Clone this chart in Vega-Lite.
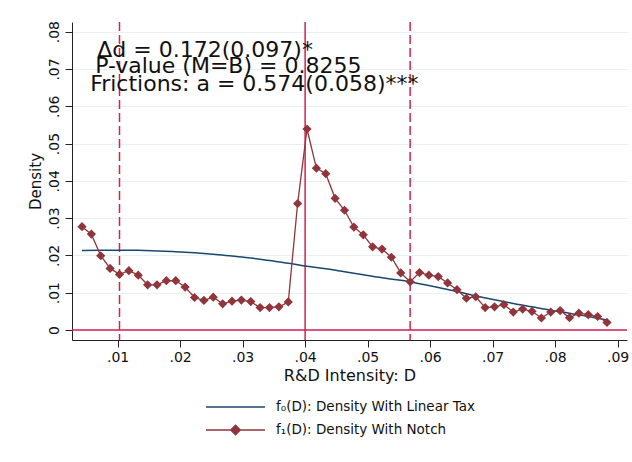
{
  "$schema": "https://vega.github.io/schema/vega-lite/v6.json",
  "autosize": "none",
  "width": 555,
  "height": 318,
  "padding": {"left": 72, "top": 22, "right": 5, "bottom": 122},
  "background": "white",
  "config": {
    "view": {"stroke": null},
    "font": "DejaVu Sans",
    "axis": {
      "domainColor": "#222222",
      "tickColor": "#222222",
      "labelColor": "#111111",
      "titleColor": "#111111",
      "labelFont": "DejaVu Sans",
      "titleFont": "DejaVu Sans",
      "titleFontWeight": "normal",
      "labelFontSize": 14,
      "titleFontSize": 15,
      "tickSize": 7,
      "domainWidth": 1,
      "tickWidth": 1
    }
  },
  "datasets": {
    "f1": [
      {"d": 0.0043, "density": 0.0277},
      {"d": 0.0058, "density": 0.0257},
      {"d": 0.0073, "density": 0.0199},
      {"d": 0.0088, "density": 0.0165},
      {"d": 0.0103, "density": 0.0149},
      {"d": 0.0118, "density": 0.0159},
      {"d": 0.0133, "density": 0.0147},
      {"d": 0.0148, "density": 0.0121},
      {"d": 0.0163, "density": 0.0121},
      {"d": 0.0178, "density": 0.0132},
      {"d": 0.0193, "density": 0.0132},
      {"d": 0.0208, "density": 0.0115},
      {"d": 0.0223, "density": 0.0087},
      {"d": 0.0238, "density": 0.0079},
      {"d": 0.0253, "density": 0.0088},
      {"d": 0.0268, "density": 0.0070},
      {"d": 0.0283, "density": 0.0077},
      {"d": 0.0298, "density": 0.0080},
      {"d": 0.0313, "density": 0.0076},
      {"d": 0.0328, "density": 0.0060},
      {"d": 0.0343, "density": 0.0060},
      {"d": 0.0358, "density": 0.0062},
      {"d": 0.0373, "density": 0.0075},
      {"d": 0.0388, "density": 0.0339},
      {"d": 0.0403, "density": 0.0539},
      {"d": 0.0418, "density": 0.0434},
      {"d": 0.0433, "density": 0.0419},
      {"d": 0.0448, "density": 0.0353},
      {"d": 0.0463, "density": 0.0321},
      {"d": 0.0478, "density": 0.0276},
      {"d": 0.0493, "density": 0.0255},
      {"d": 0.0508, "density": 0.0223},
      {"d": 0.0523, "density": 0.0217},
      {"d": 0.0538, "density": 0.0195},
      {"d": 0.0553, "density": 0.0153},
      {"d": 0.0568, "density": 0.0129},
      {"d": 0.0583, "density": 0.0154},
      {"d": 0.0598, "density": 0.0147},
      {"d": 0.0613, "density": 0.0143},
      {"d": 0.0628, "density": 0.0126},
      {"d": 0.0643, "density": 0.0108},
      {"d": 0.0658, "density": 0.0085},
      {"d": 0.0673, "density": 0.0089},
      {"d": 0.0688, "density": 0.0060},
      {"d": 0.0703, "density": 0.0062},
      {"d": 0.0718, "density": 0.0068},
      {"d": 0.0733, "density": 0.0048},
      {"d": 0.0748, "density": 0.0056},
      {"d": 0.0763, "density": 0.0050},
      {"d": 0.0778, "density": 0.0032},
      {"d": 0.0793, "density": 0.0048},
      {"d": 0.0808, "density": 0.0052},
      {"d": 0.0823, "density": 0.0033},
      {"d": 0.0838, "density": 0.0045},
      {"d": 0.0853, "density": 0.0041},
      {"d": 0.0868, "density": 0.0036},
      {"d": 0.0883, "density": 0.0020}
    ],
    "f0": [
      {"d": 0.0043, "density": 0.0213},
      {"d": 0.0073, "density": 0.02137},
      {"d": 0.0103, "density": 0.0214},
      {"d": 0.0133, "density": 0.02136},
      {"d": 0.0163, "density": 0.0212},
      {"d": 0.0193, "density": 0.0210},
      {"d": 0.0223, "density": 0.0207},
      {"d": 0.0253, "density": 0.0203},
      {"d": 0.0283, "density": 0.0198},
      {"d": 0.0313, "density": 0.0193},
      {"d": 0.0343, "density": 0.0186},
      {"d": 0.0373, "density": 0.0179},
      {"d": 0.0403, "density": 0.0171},
      {"d": 0.0433, "density": 0.0164},
      {"d": 0.0463, "density": 0.0156},
      {"d": 0.0493, "density": 0.0148},
      {"d": 0.0523, "density": 0.0140},
      {"d": 0.0553, "density": 0.0133},
      {"d": 0.0583, "density": 0.0124},
      {"d": 0.0613, "density": 0.0114},
      {"d": 0.0643, "density": 0.0103},
      {"d": 0.0673, "density": 0.0091},
      {"d": 0.0703, "density": 0.0081},
      {"d": 0.0733, "density": 0.0071},
      {"d": 0.0763, "density": 0.0062},
      {"d": 0.0793, "density": 0.0053},
      {"d": 0.0823, "density": 0.0045},
      {"d": 0.0853, "density": 0.0036},
      {"d": 0.0883, "density": 0.0027}
    ],
    "refs": [
      {"d": 0.0103, "kind": "bound"},
      {"d": 0.04, "kind": "notch"},
      {"d": 0.0568, "kind": "bound"}
    ],
    "notes": [
      {"note": "Δd = 0.172(0.097)*", "d": 0.00675, "density": 0.0732},
      {"note": "P-value (M=B) = 0.8255", "d": 0.0064, "density": 0.0688},
      {"note": "Frictions: a = 0.574(0.058)***", "d": 0.0056, "density": 0.0642}
    ]
  },
  "encoding": {
    "x": {
      "field": "d",
      "type": "quantitative",
      "scale": {"domain": [0.0027, 0.0915], "nice": false, "zero": false},
      "axis": {
        "title": "R&D Intensity: D",
        "titleFontSize": 16,
        "values": [0.01, 0.02, 0.03, 0.04, 0.05, 0.06, 0.07, 0.08, 0.09],
        "labelExpr": "replace(format(datum.value, '.2f'), '0.', '.')",
        "grid": false,
        "labelPadding": 3,
        "titlePadding": 3
      }
    },
    "y": {
      "field": "density",
      "type": "quantitative",
      "scale": {"domain": [-0.0027, 0.0826], "nice": false, "zero": false},
      "axis": {
        "title": "Density",
        "values": [0, 0.01, 0.02, 0.03, 0.04, 0.05, 0.06, 0.07, 0.08],
        "labelExpr": "datum.value == 0 ? '0' : replace(format(datum.value, '.2f'), '0.', '.')",
        "labelAngle": -90,
        "labelAlign": "center",
        "labelBaseline": "bottom",
        "labelPadding": 4,
        "titlePadding": 4,
        "grid": true,
        "gridColor": "#e8f0f2",
        "gridWidth": 1.2
      }
    }
  },
  "layer": [
    {
      "data": {"name": "refs"},
      "mark": {"type": "rule", "color": "#d6204f", "strokeWidth": 1.5},
      "encoding": {
        "y": null,
        "strokeDash": {
          "field": "kind",
          "type": "nominal",
          "scale": {"domain": ["bound", "notch"], "range": [[9, 4], [1, 0]]},
          "legend": null
        }
      }
    },
    {
      "data": {"values": [{"density": 0}]},
      "mark": {"type": "rule", "color": "#d6204f", "strokeWidth": 1.5},
      "encoding": {"x": null}
    },
    {
      "data": {"name": "f0"},
      "transform": [{"calculate": "'f₀(D): Density With Linear Tax'", "as": "series"}],
      "mark": {"type": "line", "strokeWidth": 1.5, "interpolate": "monotone"},
      "encoding": {
        "color": {
          "field": "series",
          "type": "nominal",
          "scale": {
            "domain": ["f₀(D): Density With Linear Tax", "f₁(D): Density With Notch"],
            "range": ["#1a476f", "#90353b"]
          },
          "legend": {
            "title": null,
            "orient": "none",
            "legendX": 133,
            "legendY": 375,
            "direction": "vertical",
            "padding": 0,
            "symbolSize": 3481,
            "symbolStrokeWidth": 1.5,
            "clipHeight": 20,
            "rowPadding": 3,
            "labelOffset": 10,
            "labelLimit": 400,
            "labelFont": "DejaVu Sans",
            "labelFontSize": 13.5,
            "labelColor": "#111111",
            "encode": {
              "symbols": {
                "update": {
                  "shape": {"signal": "indexof(datum.value, 'Notch') >= 0 ? 'M-1,0H1M0,-0.16L0.16,0L0,0.16L-0.16,0Z' : 'M-1,0H1'"},
                  "fill": {"signal": "indexof(datum.value, 'Notch') >= 0 ? '#90353b' : 'transparent'"},
                  "fillOpacity": {"value": 1}
                }
              }
            }
          }
        }
      }
    },
    {
      "data": {"name": "f1"},
      "transform": [{"calculate": "'f₁(D): Density With Notch'", "as": "series"}],
      "mark": {"type": "line", "strokeWidth": 1.3},
      "encoding": {
        "color": {"field": "series", "type": "nominal"}
      }
    },
    {
      "data": {"name": "f1"},
      "mark": {
        "type": "point",
        "shape": "diamond",
        "filled": true,
        "size": 85,
        "color": "#90353b",
        "opacity": 1
      }
    },
    {
      "data": {"name": "notes"},
      "mark": {
        "type": "text",
        "align": "left",
        "baseline": "alphabetic",
        "font": "DejaVu Sans",
        "fontSize": 22,
        "color": "#111111"
      },
      "encoding": {"text": {"field": "note"}}
    }
  ]
}
